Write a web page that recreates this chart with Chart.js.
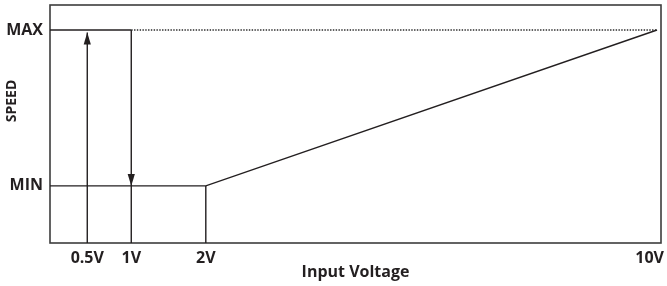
<!DOCTYPE html>
<html>
<head>
<meta charset="utf-8">
<title>Speed vs Input Voltage</title>
<script src="https://cdn.jsdelivr.net/npm/chart.js@4.4.1/dist/chart.umd.min.js"></script>
<style>
  html, body { margin: 0; padding: 0; background: #fff; }
  #wrap { width: 667px; height: 286px; position: relative; }
</style>
</head>
<body>
<div id="wrap"><canvas id="chart"></canvas></div>
<script>
// tick labels on the voltage axis
const TICK_VOLTS = [0.5, 1, 2, 10];
// the drawing is not to scale: where each voltage sits along the axis (0..1)
const AXIS_VOLTS = [0, 0.5, 1, 2, 10, 10.07];
const AXIS_FRACS = [0, 0.061, 0.133, 0.255, 0.9935, 1];

// speed levels (0..100 of the plot height)
const SPEED_MIN = 24;
const SPEED_MAX = 89.5;
const ARROW_UP_TOP = 88.4;

// speed response
const curveVolts = [0, 2, 10];
const curveSpeed = [SPEED_MIN, SPEED_MIN, SPEED_MAX];
// MAX level guides
const maxSolidVolts = [0, 1];
const maxDotVolts = [1, 10];
// vertical markers
const upVolts = [0.5, 0.5];
const upSpeed = [0, ARROW_UP_TOP];
const downVolts = [1, 1, 1];
const downSpeed = [SPEED_MAX, SPEED_MIN, 0];
const kneeVolts = [2, 2];
const kneeSpeed = [SPEED_MIN, 0];

const INK = '#231f20';

class PiecewiseScale extends Chart.LinearScale {
  static id = 'piecewise';
  static defaults = Chart.LinearScale.defaults;

  getPixelForValue(value) {
    if (value === null || isNaN(value)) return NaN;
    let f = 0;
    for (let i = 1; i < AXIS_VOLTS.length; i++) {
      if (value <= AXIS_VOLTS[i] || i === AXIS_VOLTS.length - 1) {
        const t = (value - AXIS_VOLTS[i - 1]) / (AXIS_VOLTS[i] - AXIS_VOLTS[i - 1]);
        f = AXIS_FRACS[i - 1] + t * (AXIS_FRACS[i] - AXIS_FRACS[i - 1]);
        break;
      }
    }
    return this.getPixelForDecimal(f);
  }

  getValueForPixel(pixel) {
    const f = this.getDecimalForPixel(pixel);
    for (let i = 1; i < AXIS_FRACS.length; i++) {
      if (f <= AXIS_FRACS[i] || i === AXIS_FRACS.length - 1) {
        const t = (f - AXIS_FRACS[i - 1]) / (AXIS_FRACS[i] - AXIS_FRACS[i - 1]);
        return AXIS_VOLTS[i - 1] + t * (AXIS_VOLTS[i] - AXIS_VOLTS[i - 1]);
      }
    }
    return AXIS_VOLTS[AXIS_VOLTS.length - 1];
  }

  // keep the last label (10V) inside the canvas instead of clipping it
  _computeLabelItems(chartArea) {
    const items = super._computeLabelItems(chartArea);
    const ctx = this.ctx;
    const limit = this.chart.width - 3;
    items.forEach(item => {
      ctx.save();
      ctx.font = item.font.string;
      const w = ctx.measureText(item.label).width;
      ctx.restore();
      const t = item.options.translation;
      if (item.options.textAlign === 'center' && t[0] + w / 2 > limit) {
        t[0] = limit - w / 2;
      }
    });
    return items;
  }
}
Chart.register(PiecewiseScale);

function pts(xs, ys) {
  return xs.map((x, i) => ({ x: x, y: Array.isArray(ys) ? ys[i] : ys }));
}

function line(data, extra) {
  return Object.assign({
    data: data,
    showLine: true,
    borderColor: INK,
    borderWidth: 1.4,
    pointRadius: 0,
    pointHoverRadius: 0,
    fill: false,
    clip: false
  }, extra || {});
}

// labels may hang over the plot edges, the box stays fixed
function noOverhang(scale) {
  scale.paddingTop = 0;
  scale.paddingBottom = 0;
  scale.paddingLeft = 0;
  scale.paddingRight = 0;
}

// box round the plot, arrowheads and the rotated SPEED label
const diagramExtras = {
  id: 'diagramExtras',
  beforeDatasetsDraw(chart) {
    const { ctx, chartArea: a } = chart;
    ctx.save();
    ctx.strokeStyle = '#3d3d3d';
    ctx.lineWidth = 1.6;
    ctx.strokeRect(a.left, a.top, a.right - a.left, a.bottom - a.top);
    ctx.restore();
  },
  afterDatasetsDraw(chart) {
    const ctx = chart.ctx;
    chart.data.datasets.forEach((ds, i) => {
      if (ds.arrowAt === undefined) return;
      const meta = chart.getDatasetMeta(i);
      const p = meta.data[ds.arrowAt];
      const q = meta.data[ds.arrowAt - 1];
      const ang = Math.atan2(p.y - q.y, p.x - q.x);
      const len = 12, half = 3.6;
      ctx.save();
      ctx.translate(p.x, p.y);
      ctx.rotate(ang);
      ctx.beginPath();
      ctx.moveTo(0, 0);
      ctx.lineTo(-len, -half);
      ctx.lineTo(-len, half);
      ctx.closePath();
      ctx.fillStyle = INK;
      ctx.fill();
      ctx.restore();
    });
  },
  afterDraw(chart) {
    const ctx = chart.ctx;
    ctx.save();
    ctx.translate(12, 101);
    ctx.rotate(-Math.PI / 2);
    ctx.font = 'bold 14px "Open Sans"';
    ctx.fillStyle = INK;
    ctx.textAlign = 'center';
    ctx.textBaseline = 'middle';
    ctx.fillText('SPEED', 0, 0);
    ctx.restore();
  }
};

new Chart(document.getElementById('chart'), {
  type: 'scatter',
  data: {
    datasets: [
      line(pts(curveVolts, curveSpeed)),
      line(pts(maxSolidVolts, SPEED_MAX)),
      line(pts(maxDotVolts, SPEED_MAX), { borderWidth: 1.4, borderDash: [1.4, 1.4], borderColor: '#2a2a2a' }),
      line(pts(upVolts, upSpeed), { arrowAt: 1 }),
      line(pts(downVolts, downSpeed), { arrowAt: 1 }),
      line(pts(kneeVolts, kneeSpeed))
    ]
  },
  options: {
    responsive: true,
    maintainAspectRatio: false,
    animation: false,
    layout: { autoPadding: false, padding: { top: 5, right: 6, left: 0, bottom: 0 } },
    plugins: {
      legend: { display: false },
      tooltip: { enabled: false }
    },
    scales: {
      x: {
        type: 'piecewise',
        min: AXIS_VOLTS[0],
        max: AXIS_VOLTS[AXIS_VOLTS.length - 1],
        grid: { display: false, drawTicks: false },
        border: { display: false },
        afterBuildTicks: (scale) => { scale.ticks = TICK_VOLTS.map(v => ({ value: v })); },
        afterFit: (scale) => { scale.height = 43; noOverhang(scale); },
        ticks: {
          autoSkip: false,
          maxRotation: 0,
          padding: 6,
          color: INK,
          font: { family: '"Open Sans"', size: 16, weight: 'bold' },
          callback: (v) => v + 'V'
        },
        title: {
          display: true,
          text: 'Input Voltage',
          color: INK,
          font: { family: '"Open Sans"', size: 16, weight: 'bold' },
          padding: { top: 0, bottom: 4 }
        }
      },
      y: {
        min: 0,
        max: 100,
        grid: { display: false, drawTicks: false },
        border: { display: false },
        afterBuildTicks: (scale) => { scale.ticks = [SPEED_MIN, SPEED_MAX].map(v => ({ value: v })); },
        afterFit: (scale) => { scale.width = 50; noOverhang(scale); },
        ticks: {
          autoSkip: false,
          padding: 7,
          color: INK,
          font: { family: '"Open Sans"', size: 16, weight: 'bold' },
          callback: (v) => v === SPEED_MIN ? 'MIN' : 'MAX'
        }
      }
    }
  },
  plugins: [diagramExtras]
});
</script>
</body>
</html>
